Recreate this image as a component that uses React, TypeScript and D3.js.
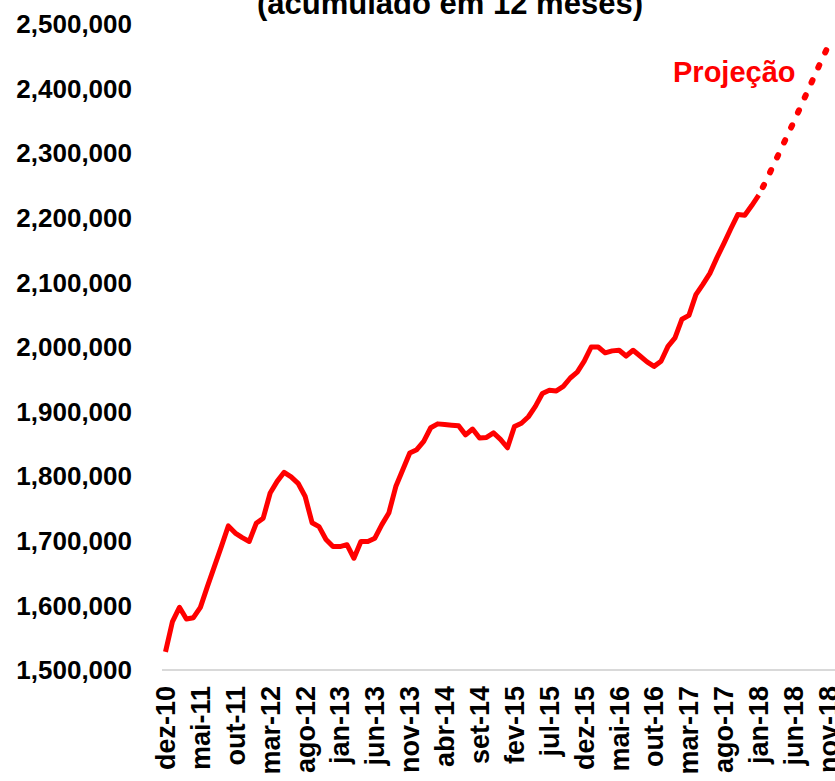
import * as d3 from 'd3';
import { useEffect, useRef } from 'react';

const W = 835;
const H = 781;

const monthNames = ['jan', 'fev', 'mar', 'abr', 'mai', 'jun', 'jul', 'ago', 'set', 'out', 'nov', 'dez'];

// dez-10 .. nov-18
const categories: string[] = [];
for (let k = 11; k < 11 + 96; k++) {
  const y = 10 + Math.floor(k / 12);
  categories.push(`${monthNames[k % 12]}-${y}`);
}

// realizado, dez-10 .. jan-18 (thousands)
const realizado = [
  1528, 1575, 1597, 1579, 1581, 1597, 1629, 1660, 1691, 1723,
  1712, 1705, 1699, 1727, 1735, 1774, 1792, 1806, 1799, 1789,
  1769, 1728, 1722, 1702, 1691, 1691, 1694, 1673, 1699, 1699,
  1704, 1725, 1743, 1784, 1810, 1836, 1841, 1854, 1875, 1881,
  1880, 1879, 1878, 1864, 1873, 1859, 1860, 1867, 1857, 1844,
  1877, 1882, 1892, 1908, 1928, 1933, 1932, 1939, 1952, 1961,
  1978, 2000, 2000, 1991, 1994, 1995, 1986, 1995, 1986, 1977,
  1970, 1978, 2001, 2014, 2043, 2049, 2081, 2097, 2114, 2138,
  2160, 2183, 2205, 2204, 2219, 2235,
];

// projeção, jan-18 .. nov-18 (thousands)
const projecao = [2235, 2256, 2279, 2302, 2325, 2348, 2372, 2396, 2420, 2444, 2467];

const tickLabels = [
  'dez-10', 'mai-11', 'out-11', 'mar-12', 'ago-12', 'jan-13', 'jun-13', 'nov-13',
  'abr-14', 'set-14', 'fev-15', 'jul-15', 'dez-15', 'mai-16', 'out-16', 'mar-17',
  'ago-17', 'jan-18', 'jun-18', 'nov-18',
];

const yTicks = [1500000, 1600000, 1700000, 1800000, 1900000, 2000000, 2100000, 2200000, 2300000, 2400000, 2500000];

const FONT = '"Liberation Sans", Arial, sans-serif';

export default function App() {
  const svgRef = useRef<SVGSVGElement>(null);

  useEffect(() => {
    if (!svgRef.current) return;
    const svg = d3.select(svgRef.current);
    svg.selectAll('*').remove();

    const x = d3.scaleBand<string>().domain(categories).range([162, 832]);
    const cx = (c: string) => (x(c) ?? 0) + x.bandwidth() / 2;
    const y = d3.scaleLinear().domain([1500000, 2500000]).range([670, 24]);

    // title (top line is cut off)
    svg
      .append('text')
      .attr('x', 450)
      .attr('y', 14)
      .attr('text-anchor', 'middle')
      .style('font-family', FONT)
      .style('font-weight', 'bold')
      .style('font-size', '31px')
      .text('(acumulado em 12 meses)');

    // y labels
    svg
      .append('g')
      .selectAll('text')
      .data(yTicks)
      .join('text')
      .attr('x', 132)
      .attr('y', (d) => y(d))
      .attr('dy', '0.35em')
      .attr('text-anchor', 'end')
      .style('font-family', FONT)
      .style('font-weight', 'bold')
      .style('font-size', '26px')
      .text((d) => d3.format(',')(d));

    // axis line
    svg
      .append('line')
      .attr('x1', 162)
      .attr('x2', 835)
      .attr('y1', y(1500000))
      .attr('y2', y(1500000))
      .attr('stroke', '#d9d9d9')
      .attr('stroke-width', 2);

    // x labels
    svg
      .append('g')
      .selectAll('text')
      .data(tickLabels)
      .join('text')
      .attr('transform', (d) => `translate(${cx(d)},686) rotate(-90)`)
      .attr('dy', '0.35em')
      .attr('text-anchor', 'end')
      .style('font-family', FONT)
      .style('font-weight', 'bold')
      .style('font-size', '27px')
      .text((d) => d);

    const line = d3
      .line<number>()
      .x((_, i) => cx(categories[i]))
      .y((d) => y(d * 1000));

    svg
      .append('path')
      .attr('d', line(realizado))
      .attr('fill', 'none')
      .attr('stroke', '#ff0000')
      .attr('stroke-width', 5)
      .attr('stroke-linejoin', 'round');

    const off = realizado.length - 1;
    const projLine = d3
      .line<number>()
      .x((_, i) => cx(categories[i + off]))
      .y((d) => y(d * 1000));

    svg
      .append('path')
      .attr('d', projLine(projecao))
      .attr('fill', 'none')
      .attr('stroke', '#ff0000')
      .attr('stroke-width', 6)
      .attr('stroke-linecap', 'round')
      .attr('stroke-dasharray', '2.5 14')
      .attr('stroke-dashoffset', -9);

    svg
      .append('text')
      .attr('x', 673)
      .attr('y', 82)
      .attr('fill', '#ff0000')
      .style('font-family', FONT)
      .style('font-weight', 'bold')
      .style('font-size', '29px')
      .text('Projeção');
  }, []);

  return (
    <svg
      ref={svgRef}
      width={W}
      height={H}
      style={{ position: 'absolute', left: 0, top: 0, background: '#fff' }}
    />
  );
}
